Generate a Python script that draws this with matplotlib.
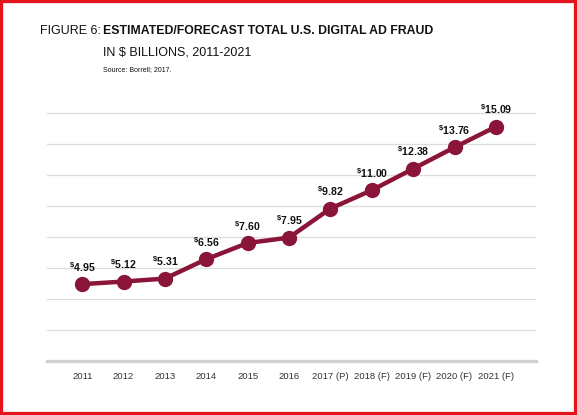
import matplotlib
matplotlib.use('Agg')
import matplotlib.pyplot as plt
from matplotlib.patches import Rectangle

# --- data ---
years = ['2011', '2012', '2013', '2014', '2015', '2016',
         '2017 (P)', '2018 (F)', '2019 (F)', '2020 (F)', '2021 (F)']
fraud = [4.95, 5.12, 5.31, 6.56, 7.60, 7.95, 9.82, 11.00, 12.38, 13.76, 15.09]
grid_ticks = [2, 4, 6, 8, 10, 12, 14, 16]

plt.rcParams['font.family'] = ['Liberation Sans', 'DejaVu Sans']
plt.rcParams['mathtext.fontset'] = 'custom'
plt.rcParams['mathtext.rm'] = 'Liberation Sans:bold'
plt.rcParams['mathtext.default'] = 'rm'

maroon = '#8a1538'

fig = plt.figure(figsize=(5.77, 4.15), dpi=100)
ax = fig.add_axes([0.0815, 0.130, 0.8475, 0.610])

x = list(range(len(years)))
ax.plot(x, fraud, color=maroon, linewidth=3.2, marker='o', markersize=10,
        markerfacecolor=maroon, markeredgecolor=maroon, zorder=3, clip_on=False)

for xi, v in zip(x, fraud):
    ax.annotate(r'$^{\$}$' + f'{v:.2f}', (xi, v), xytext=(0, 7.5),
                textcoords='offset points', ha='center', va='bottom',
                fontsize=7.6, fontweight='bold', color='#111111')

ax.set_xlim(-0.85, 10.97)
ax.set_ylim(0, 16.3)
ax.set_yticks(grid_ticks)
ax.set_yticklabels([])
ax.set_xticks(x)
ax.set_xticklabels(years, fontsize=6.8, color='#333333')
ax.tick_params(axis='both', length=0)
ax.tick_params(axis='x', pad=8)
ax.grid(axis='y', color='#dddddd', linewidth=0.9)
ax.set_axisbelow(True)
for s in ['top', 'right', 'left']:
    ax.spines[s].set_visible(False)
ax.spines['bottom'].set_color('#d2d2d2')
ax.spines['bottom'].set_linewidth(2.4)

# --- titles ---
fig.text(40 / 577, 0.918, 'FIGURE 6:', fontsize=9, color='#111111')
fig.text(103 / 577, 0.918, 'ESTIMATED/FORECAST TOTAL U.S. DIGITAL AD FRAUD',
         fontsize=8.8, fontweight='bold', color='#111111')
fig.text(103 / 577, 0.867, 'IN $ BILLIONS, 2011-2021', fontsize=9, color='#111111')
fig.text(103 / 577, 0.828, 'Source: Borrell; 2017.', fontsize=5, color='#111111')

# red frame
fig.patches.append(Rectangle((0, 0), 1, 1, transform=fig.transFigure, fill=False,
                             edgecolor='#e3141b', linewidth=4.5))

fig.savefig('out.png', dpi=100)
